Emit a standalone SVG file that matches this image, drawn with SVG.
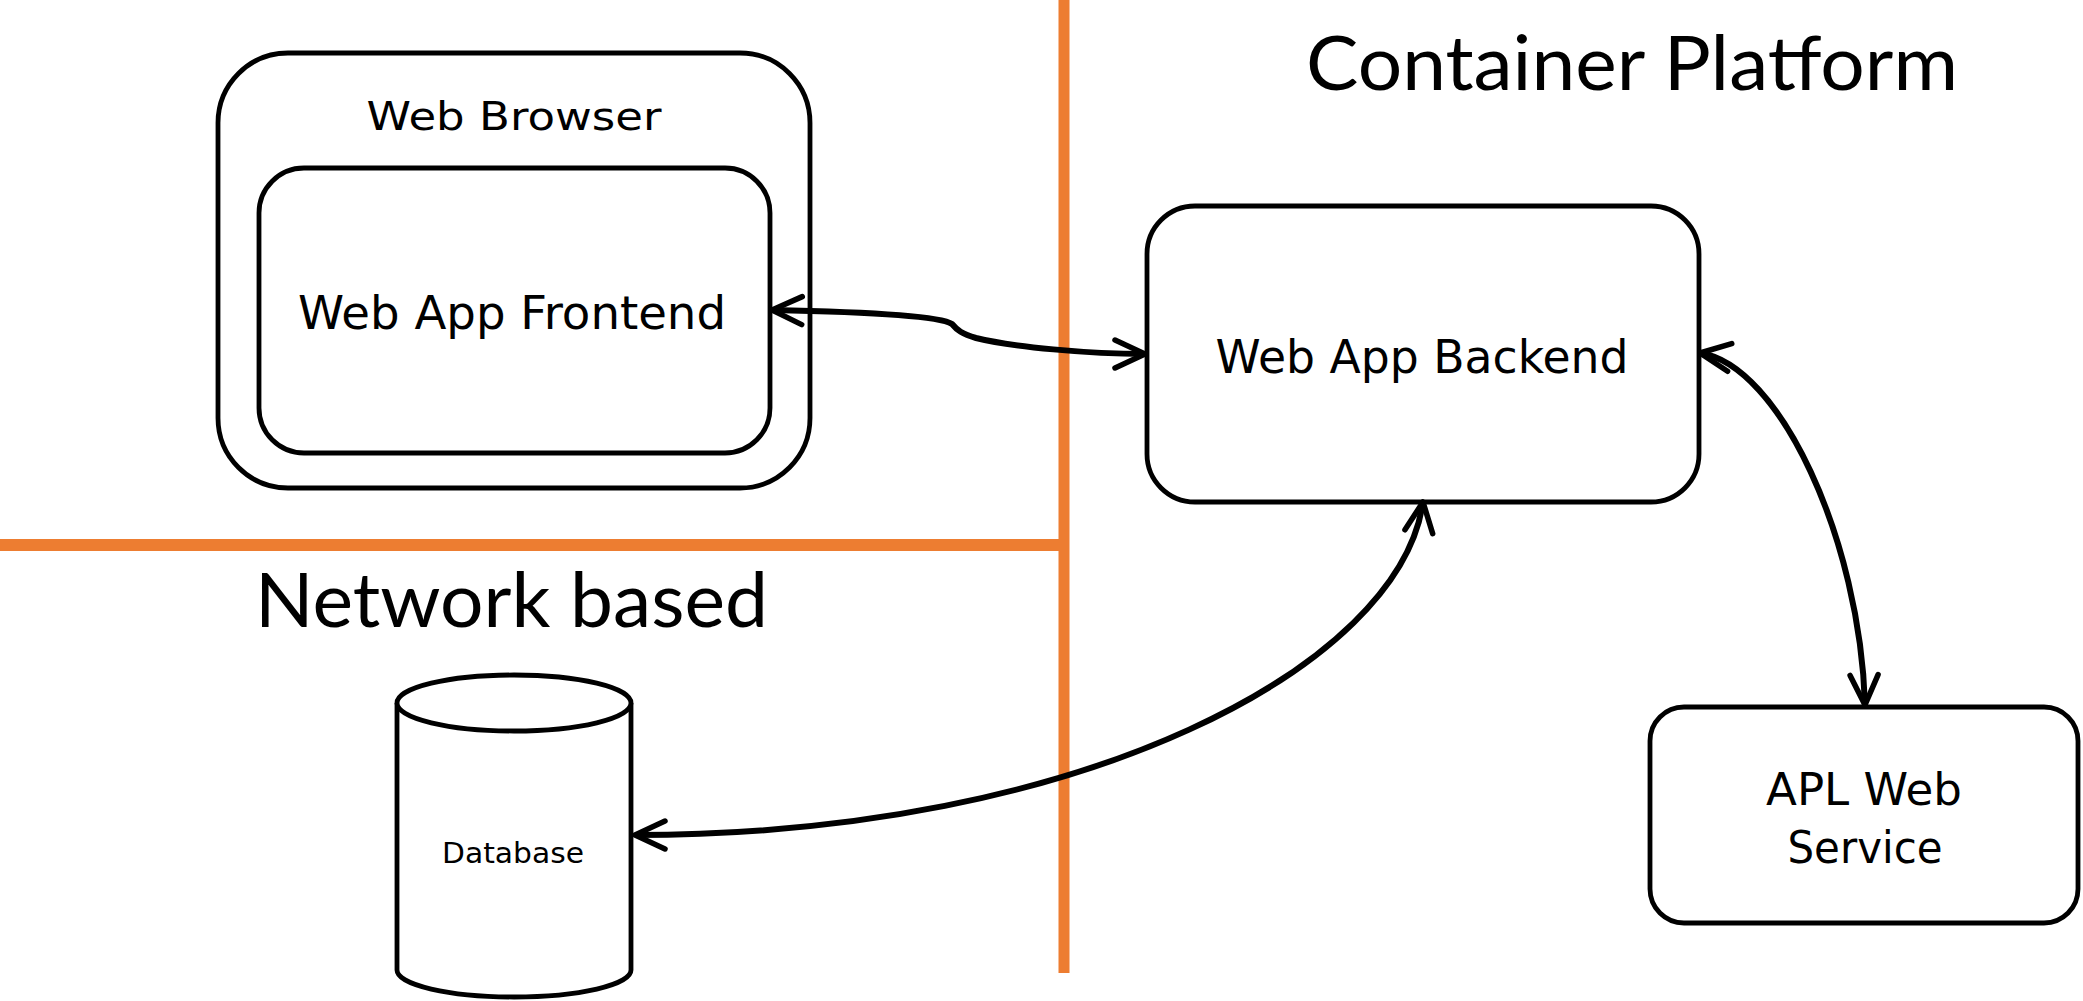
<svg xmlns="http://www.w3.org/2000/svg" width="2083" height="1001" viewBox="0 0 2083 1001">
  <style>
    .box { fill: #ffffff; stroke: #000000; stroke-width: 4.8; }
    .lbl { font-family: "DejaVu Sans", "Liberation Sans", sans-serif; fill: #000000; text-anchor: middle; }
    .zone { font-family: Lato, "Open Sans", "Liberation Sans", sans-serif; font-size: 75px; fill: #000000; }
    .divider { stroke: #ED7D31; fill: none; }
    .link { fill: none; stroke: #000000; stroke-width: 6; marker-start: url(#open-arrow); marker-end: url(#open-arrow); }
  </style>
  <defs>
    <marker id="open-arrow" markerUnits="userSpaceOnUse" orient="auto-start-reverse" refX="0" refY="0" markerWidth="40" markerHeight="40" overflow="visible">
      <path d="M-30,-14 L0,0 L-30,14" fill="none" stroke="#000000" stroke-width="5.5" stroke-linecap="round" stroke-linejoin="round"/>
    </marker>
  </defs>

  <rect width="2083" height="1001" fill="#ffffff"/>

  <!-- zone dividers -->
  <g id="dividers">
    <line class="divider" x1="1064" y1="0" x2="1064" y2="973" stroke-width="11"/>
    <line class="divider" x1="0" y1="545" x2="1064" y2="545" stroke-width="12"/>
  </g>

  <!-- zone titles -->
  <g id="zone-titles">
    <text class="zone" x="1306" y="90" textLength="652" lengthAdjust="spacingAndGlyphs">Container Platform</text>
    <text class="zone" x="255" y="627" textLength="513" lengthAdjust="spacingAndGlyphs">Network based</text>
  </g>

  <g id="web-browser">
    <rect class="box" x="218" y="53" width="592" height="435" rx="70" ry="70"/>
    <text class="lbl" x="514" y="130" font-size="39" textLength="295" lengthAdjust="spacingAndGlyphs">Web Browser</text>
  </g>

  <g id="web-app-frontend">
    <rect class="box" x="259" y="168" width="511" height="285" rx="45" ry="45"/>
    <text class="lbl" x="512" y="329" font-size="46" textLength="428" lengthAdjust="spacingAndGlyphs">Web App Frontend</text>
  </g>

  <g id="web-app-backend">
    <rect class="box" x="1147" y="206" width="552" height="296" rx="48" ry="48"/>
    <text class="lbl" x="1422" y="373" font-size="47" textLength="413" lengthAdjust="spacingAndGlyphs">Web App Backend</text>
  </g>

  <g id="apl-web-service">
    <rect class="box" x="1650" y="707" width="428" height="216" rx="34" ry="34"/>
    <text class="lbl" x="1864" y="805" font-size="45" textLength="196" lengthAdjust="spacingAndGlyphs">APL Web</text>
    <text class="lbl" x="1865" y="863" font-size="45" textLength="155" lengthAdjust="spacingAndGlyphs">Service</text>
  </g>

  <g id="database">
    <path class="box" d="M397,703 A117,28 0 0 1 631,703 L631,970 A117,27 0 0 1 397,970 Z"/>
    <path class="box" fill="none" d="M397,703 A117,28 0 0 0 631,703"/>
    <text class="lbl" x="513" y="863" font-size="28" textLength="142" lengthAdjust="spacingAndGlyphs">Database</text>
  </g>

  <!-- connectors: each one is a two-way link with an open arrowhead at both ends -->
  <g id="connectors">
    <path class="link" d="M772,310 C870,312 940,316 952,324 C957,330 962,334 976,338 C1012,347 1090,354 1145,354"/>
    <path class="link" d="M1700,353 C1780,365 1860,540 1865,705"/>
    <path class="link" d="M635,835 C1085,835 1400,665 1423,502"/>
  </g>
</svg>
